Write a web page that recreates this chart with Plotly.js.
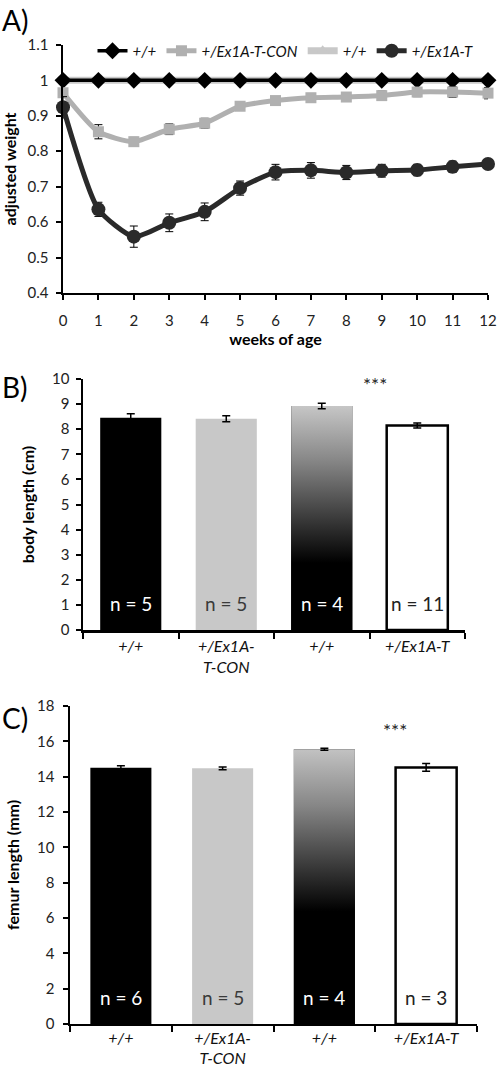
<!DOCTYPE html>
<html>
<head>
<meta charset="utf-8">
<script src="https://cdn.plot.ly/plotly-3.0.1.min.js"></script>
<style>html,body{margin:0;padding:0;background:#fff;}#chart{width:500px;height:1070px;}</style>
</head>
<body>
<div id="chart"></div>
<script>
// ---------- Panel A data ----------
const weeks = [0,1,2,3,4,5,6,7,8,9,10,11,12];
const wtDiamond = [1,1,1,1,1,1,1,1,1,1,1,1,1];
const wtDiamondErr = [0.006,0.006,0.006,0.006,0.006,0.006,0.006,0.006,0.006,0.006,0.006,0.006,0.006];
const wtTriangle = [1,1,1,1,1,1,1,1,1,1,1,1,1];
const conWeight = [0.965,0.855,0.827,0.862,0.879,0.927,0.943,0.951,0.953,0.957,0.967,0.967,0.964];
const conErr = [0.012,0.02,0.012,0.015,0.014,0.012,0.01,0.012,0.012,0.013,0.013,0.015,0.016];
const mutWeight = [0.924,0.636,0.559,0.598,0.629,0.696,0.741,0.746,0.740,0.745,0.747,0.756,0.764];
const mutErr = [0.03,0.02,0.03,0.025,0.025,0.02,0.022,0.022,0.02,0.018,0.016,0.016,0.01];
const legendNames = ['+/+', '+/Ex1A-T-CON', '+/+', '+/Ex1A-T'];

// ---------- Panels B & C data ----------
const groupLabels = ['+/+', '+/Ex1A-<br>T-CON', '+/+', '+/Ex1A-T'];
const bodyLength = [8.46, 8.42, 8.92, 8.15];
const bodyErr = [0.16, 0.12, 0.11, 0.1];
const bodyN = [5, 5, 4, 11];
const femurLength = [14.5, 14.47, 15.55, 14.52];
const femurErr = [0.12, 0.08, 0.06, 0.22];
const femurN = [6, 5, 4, 3];
const sigLabel = '***';

// ---------- styles ----------
const FONT = 'Lato, "Open Sans", sans-serif';
const barColors = ['#000000', '#c8c8c8', '#000000', '#ffffff'];
const barLineW = [0, 0, 0, 2.5];
const nTextColors = ['#ffffff', '#3a3a3a', '#ffffff', '#222222'];
const gradIdx = 2;

const idx = groupLabels.map((_, i) => i);
const italicLabels = groupLabels.map(s => s.split('<br>').map(p => '<i>' + p + '</i>').join('<br>'));

function gradientBar(xa, ya, values, width, blackFrac, topColor) {
  const c = idx[gradIdx], v = values[gradIdx], h = width / 2;
  return {
    type: 'scatter', xaxis: xa, yaxis: ya, mode: 'lines',
    x: [c - h, c + h, c + h, c - h, c - h],
    y: [0, 0, v, v, 0],
    fill: 'toself', line: {width: 0, color: 'rgba(0,0,0,0)'},
    fillgradient: {type: 'vertical', start: 0, stop: v,
      colorscale: [[0, '#000000'], [blackFrac, '#000000'], [blackFrac + (1 - blackFrac) * 0.3, '#3e3e3e'],
                   [blackFrac + (1 - blackFrac) * 0.65, '#868686'], [1, topColor]]},
    showlegend: false, hoverinfo: 'skip'
  };
}

function barTrace(xa, ya, values, width) {
  return {type: 'bar', xaxis: xa, yaxis: ya, x: idx, y: values, width: width,
    marker: {color: barColors, line: {color: '#000', width: barLineW}}, showlegend: false};
}
function errTrace(xa, ya, values, errs) {
  return {type: 'scatter', mode: 'markers', xaxis: xa, yaxis: ya, x: idx, y: values,
    marker: {size: 1, color: 'rgba(0,0,0,0)'},
    error_y: {type: 'data', array: errs, visible: true, color: '#000', thickness: 1.5, width: 4},
    showlegend: false, hoverinfo: 'skip'};
}

const errStyle = {type: 'data', visible: true, color: '#000', thickness: 1, width: 4};

const traces = [
  {x: weeks, y: wtTriangle, name: legendNames[2], legendrank: 3, mode: 'lines+markers',
   line: {color: '#c8c8c8', width: 7}, marker: {symbol: 'triangle-up', size: 11, color: '#c8c8c8'}, cliponaxis: false},
  {x: weeks, y: wtDiamond, name: legendNames[0], legendrank: 1, mode: 'lines+markers',
   line: {color: '#000', width: 3.5}, marker: {symbol: 'diamond', size: 13, color: '#000'}, cliponaxis: false,
   error_y: Object.assign({array: wtDiamondErr}, errStyle)},
  {x: weeks, y: conWeight, name: legendNames[1], legendrank: 2, mode: 'lines+markers',
   line: {color: '#b0b0b0', width: 5, shape: 'spline', smoothing: 0.6}, marker: {symbol: 'square', size: 11, color: '#b0b0b0'}, cliponaxis: false,
   error_y: Object.assign({array: conErr}, errStyle)},
  {x: weeks, y: mutWeight, name: legendNames[3], legendrank: 4, mode: 'lines+markers',
   line: {color: '#2a2a2a', width: 5, shape: 'spline', smoothing: 0.6}, marker: {symbol: 'circle', size: 14, color: '#2a2a2a'}, cliponaxis: false,
   error_y: Object.assign({array: mutErr}, errStyle)},
  barTrace('x2', 'y2', bodyLength, 0.64),
  gradientBar('x2', 'y2', bodyLength, 0.64, 0.3, '#c6c6c6'),
  errTrace('x2', 'y2', bodyLength, bodyErr),
  barTrace('x3', 'y3', femurLength, 0.6),
  gradientBar('x3', 'y3', femurLength, 0.6, 0.41, '#c2c2c2'),
  errTrace('x3', 'y3', femurLength, femurErr)
];

const axisBase = {showline: true, linecolor: '#000', linewidth: 2.5, showgrid: false, zeroline: false,
  ticks: 'outside', ticklen: 5, tickwidth: 2, tickcolor: '#000', tickfont: {family: FONT, size: 15, color: '#222'}};

function catAxis(domain, anchor, standoff) {
  return Object.assign({}, axisBase, {domain: domain, anchor: anchor, range: [-0.5, 3.5],
    tickmode: 'array', tickvals: idx, ticktext: italicLabels, ticks: '', ticklabelstandoff: standoff,
    tickfont: {family: FONT, size: 16, color: '#111'},
    minor: {tickmode: 'array', tickvals: [-0.5, 0.5, 1.5, 2.5, 3.5], ticks: 'outside', ticklen: 6, tickwidth: 2, tickcolor: '#000'}});
}

const titleFont = {family: FONT, size: 16, color: '#000'};
const panelFont = {family: FONT, size: 28, color: '#000'};
const annotations = [
  {text: 'A)', xref: 'paper', yref: 'paper', x: 0, y: 1 - 20 / 1070, xanchor: 'left', yanchor: 'middle', showarrow: false, font: panelFont},
  {text: 'B)', xref: 'paper', yref: 'paper', x: 0, y: 1 - 387 / 1070, xanchor: 'left', yanchor: 'middle', showarrow: false, font: panelFont},
  {text: 'C)', xref: 'paper', yref: 'paper', x: 0, y: 1 - 718 / 1070, xanchor: 'left', yanchor: 'middle', showarrow: false, font: panelFont},
  {text: sigLabel, xref: 'x2', yref: 'y2', x: 2.56, y: 9.8, showarrow: false, font: {family: FONT, size: 19, color: '#222'}},
  {text: sigLabel, xref: 'x3', yref: 'y3', x: 2.69, y: 16.6, showarrow: false, font: {family: FONT, size: 19, color: '#222'}}
];
bodyN.forEach((n, i) => annotations.push({text: 'n = ' + n, xref: 'x2', yref: 'y2', x: idx[i], y: 1.05, showarrow: false,
  font: {family: FONT, size: 19, color: nTextColors[i]}}));
femurN.forEach((n, i) => annotations.push({text: 'n = ' + n, xref: 'x3', yref: 'y3', x: idx[i], y: 1.5, showarrow: false,
  font: {family: FONT, size: 19, color: nTextColors[i]}}));

const layout = {
  width: 500, height: 1070, autosize: false,
  margin: {l: 0, r: 0, t: 0, b: 0},
  paper_bgcolor: '#fff', plot_bgcolor: 'rgba(0,0,0,0)',
  font: {family: FONT, color: '#000'},
  showlegend: true,
  legend: {orientation: 'h', x: 0.185, y: 1 - 51 / 1070, xanchor: 'left', yanchor: 'middle',
    font: {family: FONT, size: 15, color: '#111', style: 'italic'}, bgcolor: 'rgba(0,0,0,0)', itemwidth: 30, traceorder: 'normal'},
  xaxis: Object.assign({}, axisBase, {domain: [0.126, 0.976], anchor: 'y', range: [0, 12], dtick: 1, tick0: 0, ticklabelstandoff: 8,
    title: {text: '<b>weeks of age</b>', font: titleFont, standoff: 5}}),
  yaxis: Object.assign({}, axisBase, {domain: [0.7262, 0.958], anchor: 'x', range: [0.4, 1.1], dtick: 0.1, tick0: 0.4, ticklabelstandoff: 4,
    title: {text: '<b>adjusted weight</b>', font: titleFont, standoff: 14}}),
  xaxis2: catAxis([0.166, 0.93], 'y2', 0),
  yaxis2: Object.assign({}, axisBase, {domain: [0.4112, 0.6458], anchor: 'x2', range: [0, 10], dtick: 1, ticklabelstandoff: 3,
    title: {text: '<b>body length (cm)</b>', font: titleFont, standoff: 14}}),
  xaxis3: catAxis([0.14, 0.954], 'y3', -2),
  yaxis3: Object.assign({}, axisBase, {domain: [0.043, 0.3402], anchor: 'x3', range: [0, 18], dtick: 2, ticklabelstandoff: 5,
    title: {text: '<b>femur length (mm)</b>', font: titleFont, standoff: 14}}),
  annotations: annotations
};

Plotly.newPlot('chart', traces, layout, {displayModeBar: false, staticPlot: true});
</script>
</body>
</html>
